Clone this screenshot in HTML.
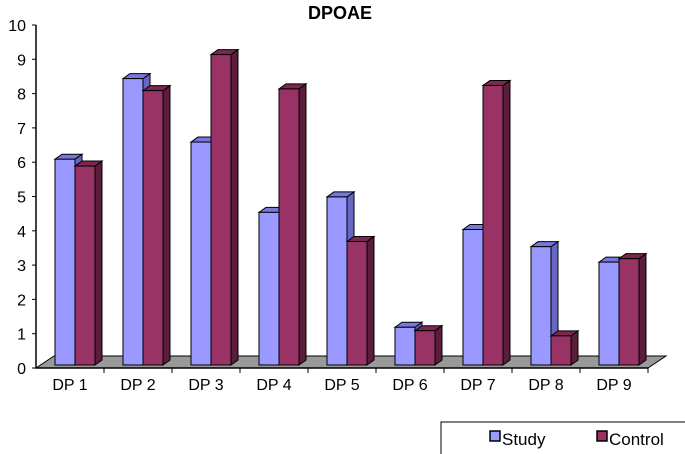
<!DOCTYPE html>
<html><head><meta charset="utf-8"><style>
body{margin:0;background:#fff;}
svg{display:block;font-family:"Liberation Sans",Arial,sans-serif;}
</style></head><body>
<svg id="chart" width="685" height="454">
<text x="340" y="19" text-anchor="middle" font-size="18" font-weight="bold">DPOAE</text>
<g id="floor"></g><g id="axis"></g><g id="bars"></g>
<g>
<path d="M441 454 V422 H685" fill="none" stroke="#000" stroke-width="1"/>
<g><rect x="490" y="431" width="10" height="10" fill="#9999ff" stroke="#000" stroke-width="1.5"/><text x="502" y="445" font-size="17">Study</text></g>
<g><rect x="597" y="431" width="10" height="10" fill="#993366" stroke="#000" stroke-width="1.5"/><text x="609" y="445" font-size="17">Control</text></g>
</g>
</svg>
<script>
const categories=["DP 1","DP 2","DP 3","DP 4","DP 5","DP 6","DP 7","DP 8","DP 9"];
const study=[6.0,8.35,6.5,4.45,4.9,1.1,3.95,3.45,3.0];
const control=[5.8,8.0,9.05,8.05,3.6,1.0,8.15,0.85,3.1];
const yTicks=[0,1,2,3,4,5,6,7,8,9,10];
const NS="http://www.w3.org/2000/svg";
const x0=36,x1=648,y0=368,y10=25,catW=(x1-x0)/categories.length;
const base=365,unit=34.3,bw=20,dx=7,dy=5;
function yAxis(v){return y0-(y0-y10)*v/10;}
function mk(t,a,p){const e=document.createElementNS(NS,t);for(const k in a)e.setAttribute(k,a[k]);p.appendChild(e);return e;}
const floor=document.getElementById('floor'),axis=document.getElementById('axis'),bars=document.getElementById('bars');
const fl=mk('polygon',{points:`${x0},${y0} ${x1},${y0} ${x1+18},${y0-12} ${x0+18},${y0-12}`,fill:'#999',stroke:'#000','stroke-width':1},floor);


const ax=mk('path',{d:`M${x0} ${y10} V${y0} H${x1}`,fill:'none',stroke:'#000','stroke-width':1.5},axis);


yTicks.forEach(v=>{const y=yAxis(v);
 mk('line',{x1:x0-4,x2:x0,y1:y,y2:y,stroke:'#000'},axis);
 const t=mk('text',{x:26,y:y+6,'text-anchor':'end','font-size':16},axis);t.textContent=v;
 
 });
categories.forEach((c,i)=>{const xs=x0+catW*(i+1);
 mk('line',{x1:xs,x2:xs,y1:y0,y2:y0+5,stroke:'#000'},axis);
 const t=mk('text',{x:x0+catW*(i+0.5),y:390,'text-anchor':'middle','font-size':16},axis);t.textContent=c;
 
 });
function bar(x,v,front,side,top,name){
 const g=mk('g',{},bars);
 
 
 const yt=base-v*unit;
 mk('polygon',{points:`${x+bw},${base} ${x+bw+dx},${base-dy} ${x+bw+dx},${yt-dy} ${x+bw},${yt}`,fill:side,stroke:'#000','stroke-width':1},g);
 mk('polygon',{points:`${x},${yt} ${x+dx},${yt-dy} ${x+bw+dx},${yt-dy} ${x+bw},${yt}`,fill:top,stroke:'#000','stroke-width':1},g);
 mk('rect',{x:x,y:yt,width:bw,height:v*unit,fill:front,stroke:'#000','stroke-width':1},g);
}
categories.forEach((c,i)=>{const cx=x0+catW*i+19;
 bar(cx,study[i],'#9999ff','#6666c4','#7777dd','bar-study-'+(i+1));
 bar(cx+bw,control[i],'#993366','#5a1d3c','#7a2850','bar-control-'+(i+1));});
</script>
</body></html>
